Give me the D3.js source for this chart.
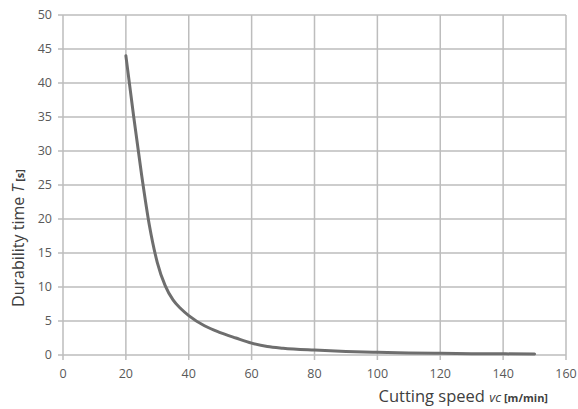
<!DOCTYPE html>
<html>
<head>
<meta charset="utf-8">
<script src="https://cdn.jsdelivr.net/npm/d3@7"></script>
<style>
  body { margin: 0; background: #fff; }
  svg { display: block; }
</style>
</head>
<body>
<svg id="chart" width="578" height="409"></svg>
<script>
// Tool durability vs cutting speed.
const speed = [20, 22.5, 25, 27.5, 30, 32.5, 35, 37.5, 40, 45, 50, 55, 60, 65, 70, 80, 90, 100, 110, 120, 130, 140, 150];
const durability = [44, 35, 26.5, 19, 13.6, 10.2, 8.1, 6.8, 5.8, 4.3, 3.3, 2.5, 1.75, 1.25, 1.0, 0.72, 0.52, 0.4, 0.31, 0.25, 0.2, 0.17, 0.15];
const xTicks = [0, 20, 40, 60, 80, 100, 120, 140, 160];
const yTicks = [0, 5, 10, 15, 20, 25, 30, 35, 40, 45, 50];

const svg = d3.select('#chart');
const m = { left: 63, right: 12, top: 15, bottom: 54 };
const W = 578, H = 409;

const x = d3.scaleLinear().domain([0, 160]).range([m.left, W - m.right]);
const y = d3.scaleLinear().domain([0, 50]).range([H - m.bottom, m.top]);

const font = '"Open Sans", "Liberation Sans", sans-serif';
const grid = '#bdbdbd';

// gridlines
svg.append('g')
  .selectAll('line')
  .data(yTicks)
  .join('line')
  .attr('x1', x(0) - 5).attr('x2', x(160))
  .attr('y1', d => y(d)).attr('y2', d => y(d))
  .attr('stroke', grid).attr('stroke-width', 1.5);

svg.append('g')
  .selectAll('line')
  .data(xTicks)
  .join('line')
  .attr('x1', d => x(d)).attr('x2', d => x(d))
  .attr('y1', y(50)).attr('y2', y(0) + 5)
  .attr('stroke', grid).attr('stroke-width', 1.5);

// tick labels
svg.append('g')
  .selectAll('text')
  .data(yTicks)
  .join('text')
  .attr('x', x(0) - 11).attr('y', d => y(d))
  .attr('dy', '0.35em')
  .attr('text-anchor', 'end')
  .attr('font-family', font).attr('font-size', 12.5)
  .attr('fill', '#595959')
  .text(d => d);

svg.append('g')
  .selectAll('text')
  .data(xTicks)
  .join('text')
  .attr('x', d => x(d)).attr('y', y(0) + 19)
  .attr('dy', '0.35em')
  .attr('text-anchor', 'middle')
  .attr('font-family', font).attr('font-size', 12.5)
  .attr('fill', '#595959')
  .text(d => d);

// curve
const line = d3.line()
  .x((d, i) => x(speed[i]))
  .y(d => y(d))
  .curve(d3.curveMonotoneX);

svg.append('path')
  .datum(durability)
  .attr('d', line)
  .attr('fill', 'none')
  .attr('stroke', '#6e6e6e')
  .attr('stroke-width', 3)
  .attr('stroke-linecap', 'round');

// axis titles
const yt = svg.append('text')
  .attr('transform', 'translate(24,238) rotate(-90)')
  .attr('text-anchor', 'middle')
  .attr('font-family', font).attr('font-size', 16)
  .attr('fill', '#404040');
yt.append('tspan').text('Durability time ');
yt.append('tspan').attr('font-style', 'italic').text('T');
yt.append('tspan').attr('font-size', 11).attr('font-weight', 'bold').text(' [s]');

const xt = svg.append('text')
  .attr('x', 548).attr('y', 402)
  .attr('text-anchor', 'end')
  .attr('font-family', font).attr('font-size', 16.5)
  .attr('fill', '#404040');
xt.append('tspan').text('Cutting speed ');
xt.append('tspan').attr('font-style', 'italic').attr('font-size', 13).text('vc');
xt.append('tspan').attr('font-size', 11).attr('font-weight', 'bold').text(' [m/min]');
</script>
</body>
</html>
